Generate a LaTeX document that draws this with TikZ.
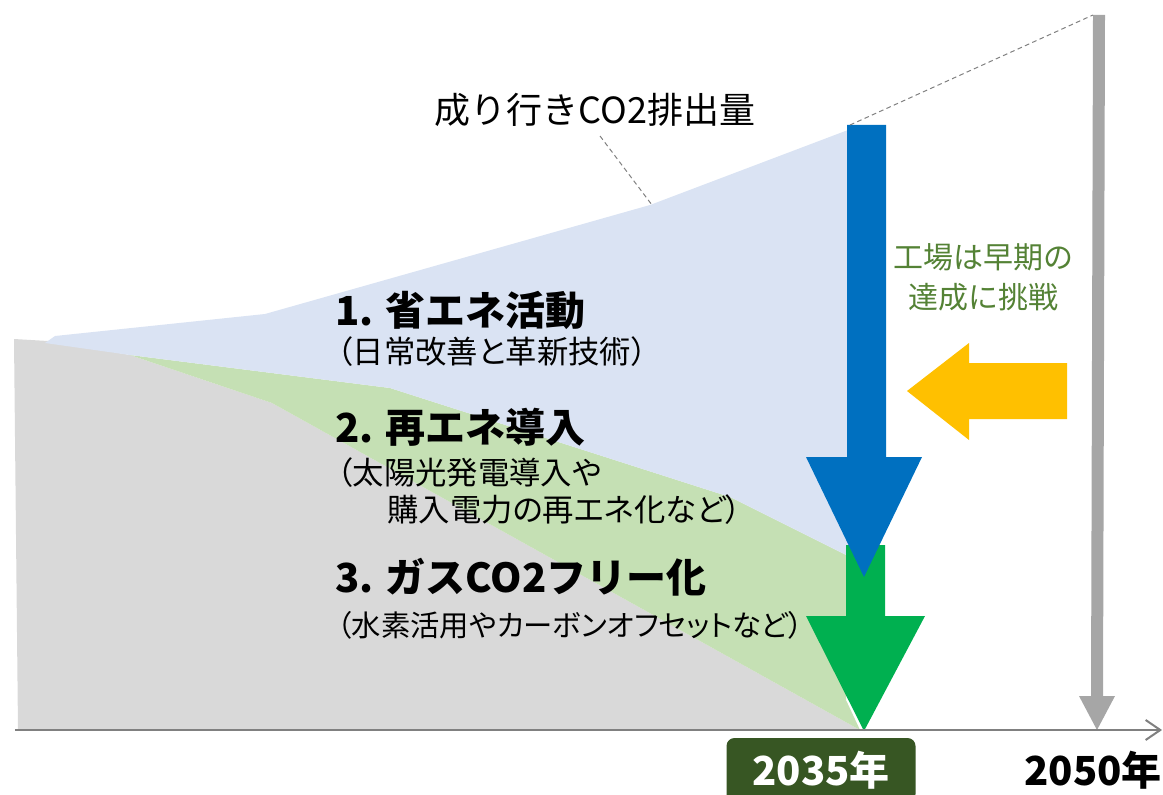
\documentclass[tikz,border=0pt]{standalone}
\usepackage{fontspec}
\setmainfont{Noto Sans CJK JP}
\newfontfamily\jpnarrow{Noto Sans CJK JP}[RawFeature=+palt]
\usetikzlibrary{arrows.meta}
\definecolor{basegray}{HTML}{D9D9D9}
\definecolor{saveblue}{HTML}{DAE3F3}
\definecolor{renewgreen}{HTML}{C5E0B4}
\definecolor{arrblue}{HTML}{0070C0}
\definecolor{arrgreen}{HTML}{00B050}
\definecolor{arrgray}{HTML}{A6A6A6}
\definecolor{arryellow}{HTML}{FFC000}
\definecolor{goalgreen}{HTML}{548235}
\definecolor{yearbox}{HTML}{375623}
\definecolor{axisgray}{HTML}{808080}

\begin{document}
\begin{tikzpicture}[x=0.75pt,y=-0.75pt, inner sep=0pt,
  head/.style={font=\fontsize{30}{34}\selectfont\bfseries, anchor=west},
  sub/.style={font=\jpnarrow\fontsize{23.5}{28}\selectfont, anchor=west, align=left},
  leader/.style={axisgray, line width=0.75pt, dash pattern=on 3.5pt off 2.5pt}]
\useasboundingbox (0,0) rectangle (1163,795);
\coordinate (gl) at (14,339);
\coordinate (gb) at (18,730);
\coordinate (tip35) at (860,730);
\coordinate (bl) at (45,343);
\coordinate (bk) at (130,355);
\coordinate (top35) at (848,130);
\coordinate (gk) at (390,388);
\coordinate (gm) at (730,497);
\coordinate (gr) at (846,555);
\fill[basegray] (gl) -- (48,341) -- (bk) -- (272,403) -- (tip35) -- (gb) -- cycle;
\fill[renewgreen] (bk) -- (gk) -- (gm) -- (gr) -- (846,700) -- (tip35) -- (272,403) -- cycle;
\fill[saveblue] (bl) -- (55,336) -- (265,314) -- (650,205) -- (top35) -- (848,552) -- (gr) -- (gm) -- (gk) -- (bk) -- cycle;
\fill[arrgreen] (846,545) -- (885,545) -- (885,616) -- (925,616) -- (864,731) -- (806,616) -- (846,616) -- cycle;
\fill[arrblue] (847,125) -- (886,125) -- (886,457) -- (922,457) -- (864,577) -- (806,457) -- (847,457) -- cycle;
\fill[arrgray] (1093,15) -- (1105,15) -- (1103,696) -- (1115,696) -- (1097,730) -- (1079,696) -- (1091,696) -- cycle;
\fill[arryellow] (907,391) -- (969,343) -- (969,363) -- (1067,363) -- (1067,419) -- (969,419) -- (969,440) -- cycle;
\node (o) at (14,730) {};
\node (xend) at (1163,730) {};
\draw[axisgray, line width=1.5pt, -{Straight Barb[length=11pt,width=15pt]}] (o) -- (xend);
\node (bau) at (595,110) [font=\fontsize{27}{30}\selectfont] {成り行きCO2排出量};
\coordinate (leadA) at (600,136);
\coordinate (leadB) at (652,205);
\draw[leader] (leadA) -- (leadB);
\coordinate (bluetop) at (850,125);
\coordinate (graytop) at (1093,15);
\draw[leader] (bluetop) -- (graytop);
\node (s1) at (335,310) [head] {1. 省エネ活動};
\node (s1sub) at (337,352) [sub] {（日常改善と革新技術）};
\node (s2) at (335,427) [head] {2. 再エネ導入};
\node (s2sub) at (337,491) [sub] {（太陽光発電導入や\\\hspace*{1.6em}購入電力の再エネ化など）};
\node (s3) at (335,577) [head] {3. ガスCO2フリー化};
\node (s3sub) at (337,625) [sub, font=\jpnarrow\fontsize{22}{26}\selectfont] {（水素活用やカーボンオフセットなど）};
\node (goal) at (983,277) [goalgreen, align=center, font=\fontsize{22.5}{30}\selectfont] {工場は早期の\\達成に挑戦};
\node (y35) at (821,770) [fill=yearbox, rounded corners=6pt, minimum width=141.75pt, minimum height=48pt, text=white, font=\fontsize{30}{34}\selectfont\bfseries] {2035年};
\node (y50) at (1093,770) [font=\fontsize{30}{34}\selectfont\bfseries] {2050年};
\end{tikzpicture}
\end{document}
